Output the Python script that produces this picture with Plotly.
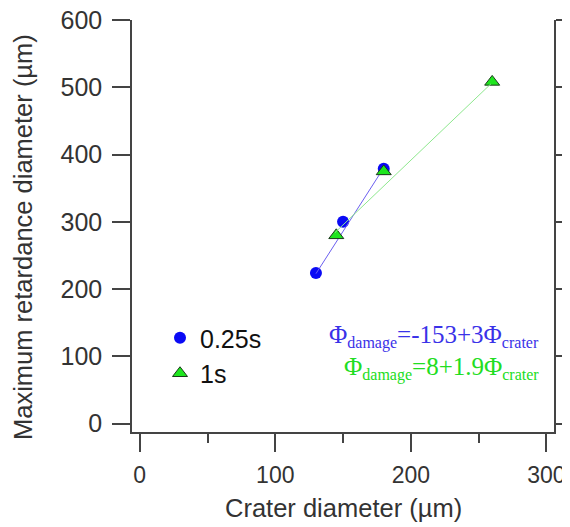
import plotly.graph_objects as go

# ---- data ----
crater_025 = [130, 150, 180]
retard_025 = [224, 300, 379]
crater_1s = [145, 180, 260]
retard_1s = [280, 375, 508]

# fitted lines as drawn in the figure (end points)
fit_x_025 = [130, 178]
fit_y_025 = [223, 374]
fit_x_1s = [144, 259]
fit_y_1s = [284, 505]

x_tick_vals = [0, 100, 200, 300]
y_tick_vals = [0, 100, 200, 300, 400, 500, 600]

SUB = "<sub><span style='font-size:16px'>{}</span></sub>"
eq_025 = "Φ" + SUB.format("damage") + "=-153+3Φ" + SUB.format("crater")
eq_1s = "Φ" + SUB.format("damage") + "=8+1.9Φ" + SUB.format("crater")

AX = "#444444"
TXT = "#333333"
SANS = "Liberation Sans, Arial, sans-serif"
SERIF = "Liberation Serif, Times New Roman, serif"

# target plot-area box on screen (page has an 8px body margin)
BODY = 8
X0, X1, Y0, Y1 = 132, 554, 20, 432
W, H = 570, 527


def px(sx):
    return (sx - X0) / (X1 - X0)


def py(sy):
    return (Y1 - sy) / (Y1 - Y0)


fig = go.Figure()
fig.add_trace(go.Scatter(x=crater_025, y=retard_025, mode="markers", name="0.25s",
                         marker=dict(symbol="circle", size=12, color="#0a0af5",
                                     line=dict(width=0))))
fig.add_trace(go.Scatter(x=fit_x_025, y=fit_y_025, mode="lines", showlegend=False,
                         line=dict(color="#6b5ff0", width=1)))
fig.add_trace(go.Scatter(x=crater_1s, y=retard_1s, mode="markers", name="1s",
                         marker=dict(symbol="triangle-up", size=13, color="#1ee61e",
                                     line=dict(width=1, color="#1a3a1a"))))
fig.add_trace(go.Scatter(x=fit_x_1s, y=fit_y_1s, mode="lines", showlegend=False,
                         line=dict(color="#8ee88e", width=1)))

fig.add_annotation(text=eq_025, xref="paper", yref="paper", x=px(541), y=py(336),
                   xanchor="right", yanchor="middle", showarrow=False,
                   font=dict(family=SERIF, size=25, color="#3a32e8"))
fig.add_annotation(text=eq_1s, xref="paper", yref="paper", x=px(541), y=py(368),
                   xanchor="right", yanchor="middle", showarrow=False,
                   font=dict(family=SERIF, size=25, color="#22dd22"))

# axis titles
fig.add_annotation(text="Maximum retardance diameter (µm)", xref="paper", yref="paper",
                   x=px(23), y=py(237), textangle=-90,
                   xanchor="center", yanchor="middle", showarrow=False,
                   font=dict(family=SANS, size=25.5, color=TXT))
fig.add_annotation(text="Crater diameter (µm)", xref="paper", yref="paper",
                   x=0.5, y=py(508),
                   xanchor="center", yanchor="middle", showarrow=False,
                   font=dict(family=SANS, size=25.5, color=TXT))

fig.update_xaxes(range=[-5.7, 305.6], tickvals=x_tick_vals, ticks="outside", ticklen=18,
                 tickwidth=1.5, tickcolor=AX, showline=True, linecolor=AX, linewidth=1.5,
                 mirror=False, showgrid=False, zeroline=False, automargin=False,
                 ticklabelstandoff=4, ticklabeloverflow="allow",
                 tickfont=dict(family=SANS, size=23, color=TXT),
                 minor=dict(dtick=50, tick0=0, ticks="outside", ticklen=9, tickwidth=1.5,
                            tickcolor=AX, showgrid=False))
fig.update_yaxes(range=[-12.3, 600], tickvals=y_tick_vals, ticks="outside", ticklen=18,
                 tickwidth=1.5, tickcolor=AX, showline=True, linecolor=AX, linewidth=1.5,
                 mirror="ticks", showgrid=False, zeroline=False, automargin=False,
                 ticklabelstandoff=5, ticklabeloverflow="allow",
                 tickfont=dict(family=SANS, size=25, color=TXT))

fig.update_layout(width=W, height=H,
                  margin=dict(l=X0 - BODY, r=W - (X1 - BODY), t=Y0 - BODY, b=H - (Y1 - BODY),
                              autoexpand=False),
                  plot_bgcolor="white", paper_bgcolor="white",
                  legend=dict(x=px(160), y=py(315), xanchor="left", yanchor="top",
                              bgcolor="rgba(0,0,0,0)",
                              font=dict(family=SANS, size=25, color="#111111")))

fig.write_html("out.html")
